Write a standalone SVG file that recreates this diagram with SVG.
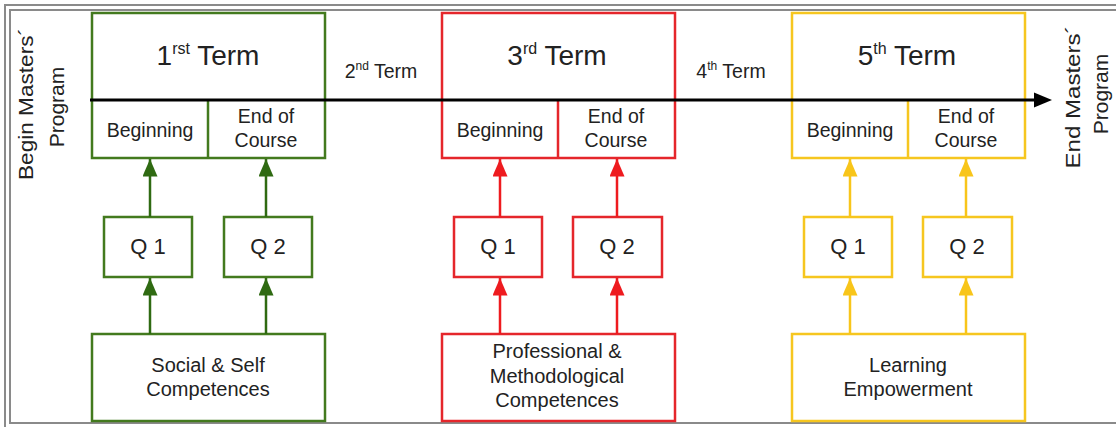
<svg xmlns="http://www.w3.org/2000/svg" width="1116" height="427" viewBox="0 0 1116 427">
<style>
text{font-family:"Liberation Sans",Arial,sans-serif;fill:#222;text-anchor:middle}
.frame{stroke:#8a8a8a;stroke-width:2;fill:none}
.box{fill:#fff;stroke-width:2.5}
.g{stroke:#437a1e}
.r{stroke:#e5262b}
.y{stroke:#f6c61f}
.big{font-size:28px}
.mid{font-size:19.5px}
.sm{font-size:20px}
.q{font-size:22px}
.sup28{font-size:16px}
.sup19{font-size:12px}
.conn{stroke-width:2.5;fill:none}
</style>
<defs>
<marker id="ag" markerWidth="7" markerHeight="6" refX="7" refY="3" orient="auto" markerUnits="strokeWidth"><path d="M0,0 L7,3 L0,6 Z" fill="#2f6a12"/></marker>
<marker id="ar" markerWidth="7" markerHeight="6" refX="7" refY="3" orient="auto" markerUnits="strokeWidth"><path d="M0,0 L7,3 L0,6 Z" fill="#ee1b1f"/></marker>
<marker id="ay" markerWidth="7" markerHeight="6" refX="7" refY="3" orient="auto" markerUnits="strokeWidth"><path d="M0,0 L7,3 L0,6 Z" fill="#f8c51a"/></marker>
</defs>
<rect width="1116" height="427" fill="#fff"/>
<g id="frame">
<path class="frame" d="M1116,5 H5 V427"/>
<path class="frame" d="M1116,10 H10 V423 H1116"/>
</g>

<g id="term1">
<rect class="box g" x="92" y="13" width="233" height="145"/>
<line class="g" stroke-width="2.5" x1="208" y1="100" x2="208" y2="158"/>
<text class="big" x="208" y="65">1<tspan class="sup28" dy="-11">rst</tspan><tspan dy="11"> Term</tspan></text>
<text class="mid" x="150" y="137">Beginning</text>
<text class="mid" x="266" y="123">End of</text>
<text class="mid" x="266" y="147">Course</text>
</g>
<g id="term2"><text class="mid" x="381" y="78">2<tspan class="sup19" dy="-8">nd</tspan><tspan dy="8"> Term</tspan></text></g>
<g id="term3">
<rect class="box r" x="442" y="13" width="233" height="145"/>
<line class="r" stroke-width="2.5" x1="558" y1="100" x2="558" y2="158"/>
<text class="big" x="557" y="65">3<tspan class="sup28" dy="-11">rd</tspan><tspan dy="11"> Term</tspan></text>
<text class="mid" x="500" y="137">Beginning</text>
<text class="mid" x="616" y="123">End of</text>
<text class="mid" x="616" y="147">Course</text>
</g>
<g id="term4"><text class="mid" x="731" y="78">4<tspan class="sup19" dy="-8">th</tspan><tspan dy="8"> Term</tspan></text></g>
<g id="term5">
<rect class="box y" x="792" y="13" width="233" height="145"/>
<line class="y" stroke-width="2.5" x1="908" y1="100" x2="908" y2="158"/>
<text class="big" x="907" y="65">5<tspan class="sup28" dy="-11">th</tspan><tspan dy="11"> Term</tspan></text>
<text class="mid" x="850" y="137">Beginning</text>
<text class="mid" x="966" y="123">End of</text>
<text class="mid" x="966" y="147">Course</text>
</g>

<g id="begin"><text style="font-size:21px" transform="translate(33,104) rotate(-90)" textLength="152" lengthAdjust="spacingAndGlyphs">Begin Masters´</text>
<text style="font-size:21px" transform="translate(64,107) rotate(-90)">Program</text></g>
<g id="end"><text style="font-size:21px" transform="translate(1080,97) rotate(-90)" textLength="143" lengthAdjust="spacingAndGlyphs">End Masters´</text>
<text style="font-size:21px" transform="translate(1108,94) rotate(-90)">Program</text></g>

<g id="g-q1"><rect class="box g" x="104" y="217" width="88" height="60"/><text class="q" x="148" y="254">Q 1</text></g>
<g id="g-q2"><rect class="box g" x="224" y="217" width="88" height="60"/><text class="q" x="268" y="254">Q 2</text></g>
<g id="r-q1"><rect class="box r" x="454" y="217" width="88" height="60"/><text class="q" x="498" y="254">Q 1</text></g>
<g id="r-q2"><rect class="box r" x="573" y="217" width="89" height="60"/><text class="q" x="617" y="254">Q 2</text></g>
<g id="y-q1"><rect class="box y" x="804" y="217" width="88" height="60"/><text class="q" x="848" y="254">Q 1</text></g>
<g id="y-q2"><rect class="box y" x="923" y="217" width="89" height="60"/><text class="q" x="967" y="254">Q 2</text></g>

<g id="social"><rect class="box g" x="92" y="334" width="233" height="87"/>
<text class="sm" x="208" y="372">Social &amp; Self</text><text class="sm" x="208" y="396">Competences</text></g>
<g id="professional"><rect class="box r" x="442" y="334" width="233" height="87"/>
<text class="sm" x="557" y="358">Professional &amp;</text><text class="sm" x="557" y="383">Methodological</text><text class="sm" x="557" y="407">Competences</text></g>
<g id="learning"><rect class="box y" x="792" y="334" width="233" height="87"/>
<text class="sm" x="908" y="372">Learning</text><text class="sm" x="908" y="396">Empowerment</text></g>

<g id="connectors">
<line x1="90" y1="100" x2="1036" y2="100" stroke="#000" stroke-width="3"/>
<path d="M1034,92.5 L1052,100 L1034,107.5 Z" fill="#000"/>
<g class="conn" stroke="#2f6a12">
<line x1="150" y1="334" x2="150" y2="278" marker-end="url(#ag)"/>
<line x1="266" y1="334" x2="266" y2="278" marker-end="url(#ag)"/>
<line x1="150" y1="217" x2="150" y2="159" marker-end="url(#ag)"/>
<line x1="266" y1="217" x2="266" y2="159" marker-end="url(#ag)"/>
</g>
<g class="conn" stroke="#ee1b1f">
<line x1="500" y1="334" x2="500" y2="278" marker-end="url(#ar)"/>
<line x1="617" y1="334" x2="617" y2="278" marker-end="url(#ar)"/>
<line x1="500" y1="217" x2="500" y2="159" marker-end="url(#ar)"/>
<line x1="617" y1="217" x2="617" y2="159" marker-end="url(#ar)"/>
</g>
<g class="conn" stroke="#f8c51a">
<line x1="850" y1="334" x2="850" y2="278" marker-end="url(#ay)"/>
<line x1="966" y1="334" x2="966" y2="278" marker-end="url(#ay)"/>
<line x1="850" y1="217" x2="850" y2="159" marker-end="url(#ay)"/>
<line x1="966" y1="217" x2="966" y2="159" marker-end="url(#ay)"/>
</g>
</g>
</svg>
